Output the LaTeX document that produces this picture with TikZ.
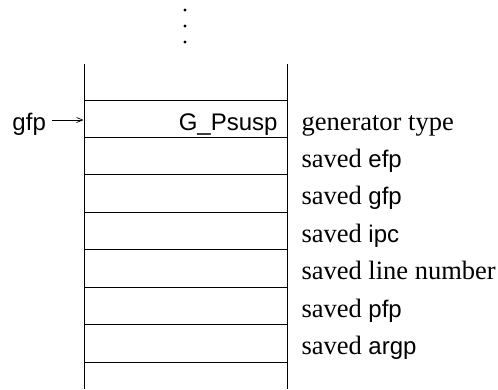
\documentclass[tikz,border=0pt]{standalone}
\usepackage{fontspec}
\usetikzlibrary{arrows.meta}
\setmainfont{Liberation Serif}
\newfontfamily\hv{Liberation Sans}
\begin{document}
\begin{tikzpicture}[x=1pt,y=-1pt,line width=1pt,
  cell/.style={draw,rectangle,inner sep=0pt,minimum width=203pt,minimum height=37.43pt},
  lab/.style={anchor=base west,inner sep=0pt,font=\fontsize{26.5}{30}\selectfont},
  sf/.style={inner sep=0pt,font=\hv\fontsize{24}{28}\selectfont},
  dot/.style={circle,fill,inner sep=0pt,minimum size=3.2pt}]
\useasboundingbox (0,0) rectangle (498,389);
% dots
\node[dot] (d1) at (185,10) {};
\node[dot] (d2) at (185,26) {};
\node[dot] (d3) at (185,42) {};
% open ends of stack
\draw (84,64) -- (84,100);
\draw (287,64) -- (287,100);
\draw (84,362) -- (84,389);
\draw (287,362) -- (287,389);
% cells
\foreach \i in {0,...,6}{
  \node[cell] (c\i) at (185.5,{100+37.43*(\i+0.5)}) {};
}
% contents
\node[sf,anchor=base east] (gp) at (278,130) {G\_Psusp};
\node[sf,anchor=base west] (gfp) at (12,130) {gfp};
\coordinate (as) at (52,120);
\draw[-{Straight Barb[length=6pt,width=5pt]},line width=0.7pt] (as) -- (c0.west |- as);
% labels
\node[lab] (l0) at (301,130) {generator type};
\node[lab] (l1) at (301,{130+37.43*1}) {saved {\hv\fontsize{24}{28}\selectfont efp}};
\node[lab] (l2) at (301,{130+37.43*2}) {saved {\hv\fontsize{24}{28}\selectfont gfp}};
\node[lab] (l3) at (301,{130+37.43*3}) {saved {\hv\fontsize{24}{28}\selectfont ipc}};
\node[lab] (l4) at (301,{130+37.43*4}) {saved line number};
\node[lab] (l5) at (301,{130+37.43*5}) {saved {\hv\fontsize{24}{28}\selectfont pfp}};
\node[lab] (l6) at (301,{130+37.43*6}) {saved {\hv\fontsize{24}{28}\selectfont argp}};
\end{tikzpicture}
\end{document}
